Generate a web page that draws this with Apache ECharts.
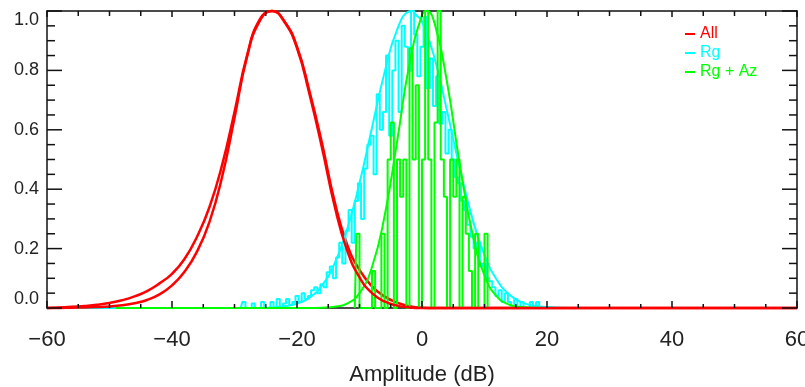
<!DOCTYPE html>
<html><head><meta charset="utf-8">
<script src="https://cdn.jsdelivr.net/npm/echarts@6/dist/echarts.min.js"></script>
<style>html,body{margin:0;padding:0;background:#fff}#c{width:805px;height:387px}</style>
</head><body><div id="c"></div>
<script>
// ---- data ----
const xTicks = [-60, -40, -20, 0, 20, 40, 60];
const yTicks = [0.0, 0.2, 0.4, 0.6, 0.8, 1.0];
const legendNames = ['All', 'Rg', 'Rg + Az'];

const allX =    [-60,-58,-56,-54,-52,-50,-48,-46,-44,-42,-40,-38,-36,-34,-32,-30,-28,-26,-24,-22,-20,-18,-16,-14,-12,-10,-8,-6,-4,-2,0,2,60];
const allHistY =[0,0.002,0.004,0.007,0.011,0.017,0.026,0.039,0.057,0.083,0.115,0.165,0.24,0.34,0.48,0.66,0.85,0.97,1.0,0.965,0.88,0.73,0.555,0.36,0.215,0.128,0.073,0.039,0.018,0.006,0.001,0,0];
const allFitY = [0,0,0.001,0.002,0.003,0.005,0.009,0.016,0.027,0.046,0.076,0.122,0.19,0.29,0.44,0.64,0.845,0.965,1.0,0.963,0.875,0.72,0.54,0.345,0.195,0.103,0.05,0.022,0.008,0.002,0,0,0];

const rgHistX = [-29,-28.5,-28,-27.5,-27,-26.5,-26,-25.5,-25,-24.5,-24,-23.5,-23,-22.5,-22,-21.5,-21,-20.5,-20,-19.5,-19,-18.5,-18,-17.5,-17,-16.5,-16,-15.5,-15,-14.5,-14,-13.5,-13,-12.5,-12,-11.5,-11,-10.5,-10,-9.5,-9,-8.5,-8,-7.5,-7,-6.5,-6,-5.5,-5,-4.5,-4,-3.5,-3,-2.5,-2,-1.5,-1,-0.5,0,0.5,1,1.5,2,2.5,3,3.5,4,4.5,5,5.5,6,6.5,7,7.5,8,8.5,9,9.5,10,10.5,11,11.5,12,12.5,13,13.5,14,14.5,15,15.5,16,16.5,17,17.5,18,18.5,19];
const rgHistY = [0,0.02,0,0,0.015,0,0,0.02,0,0,0.02,0,0.03,0,0.015,0.03,0.01,0.02,0.04,0.02,0.05,0.03,0.04,0.06,0.07,0.05,0.08,0.07,0.12,0.14,0.10,0.17,0.22,0.15,0.26,0.33,0.22,0.36,0.42,0.30,0.47,0.55,0.58,0.45,0.72,0.60,0.66,0.85,0.58,0.80,0.90,0.66,0.95,0.88,0.80,1.0,0.92,0.78,0.88,0.98,0.74,0.84,0.68,0.78,0.62,0.66,0.52,0.60,0.50,0.44,0.42,0.36,0.33,0.28,0.24,0.20,0.22,0.14,0.15,0.10,0.09,0.07,0.04,0.06,0.02,0.05,0.02,0,0.03,0,0.02,0,0,0.02,0,0.02,0];
const rgFitX = [-60,-30,-26,-24,-22,-20,-18,-16,-14,-12,-10,-8,-6,-4,-2,-1.5,-1,0,2,4,6,8,10,12,14,16,18,20,22,26,60];
const rgFitY = [0,0,0,0.002,0.006,0.015,0.035,0.076,0.149,0.263,0.42,0.607,0.792,0.936,0.999,1.0,0.988,0.964,0.842,0.664,0.474,0.306,0.178,0.094,0.045,0.019,0.0075,0.003,0.001,0,0];

const azHistX = [-10.75,-10.25,-9.75,-9.25,-8.75,-8.25,-7.75,-7.25,-6.75,-6.25,-5.75,-5.25,-4.75,-4.25,-3.75,-3.25,-2.75,-2.25,-1.75,-1.25,-0.75,-0.25,0.25,0.75,1.25,1.75,2.25,2.75,3.25,3.75,4.25,4.75,5.25,5.75,6.25,6.75,7.25,7.75,8.25,8.75,9.25,9.75,10.25,10.75];
const azHistY = [0,0.25,0,0,0,0,0.125,0,0,0.25,0,0.5,0.625,0,0.5,0.375,0.5,0,0.875,0.5,0.75,0,0.5,1.0,0.5,0,0.625,1.0,0.5,0.375,0,0.5,0.375,0.5,0,0.375,0.25,0.125,0,0.25,0,0,0.25,0];
const azFitX = [-49,-18,-16,-14,-12,-10,-8,-6,-4,-2,0,0.75,2,4,6,8,10,12,14,16,18,20,60];
const azFitY = [0,0,0.001,0.004,0.015,0.05,0.138,0.308,0.558,0.823,0.986,1.0,0.96,0.761,0.49,0.257,0.11,0.038,0.011,0.003,0.001,0,0];

const RED = '#ff0000', CYAN = '#00ffff', GREEN = '#00ff00';
const zip = (xs, ys) => xs.map((x, i) => [x, ys[i]]);

// minor tick positions: 4 sub-intervals per major interval
function minors(ticks) {
  const out = [];
  for (let i = 0; i < ticks.length - 1; i++) {
    const step = (ticks[i + 1] - ticks[i]) / 4;
    for (let k = 1; k < 4; k++) out.push(ticks[i] + k * step);
  }
  return out;
}
const tickData = [].concat(
  xTicks.map(v => [v, 0]), minors(xTicks).map(v => [v, 1]),
  yTicks.map(v => [v, 2]), minors(yTicks).map(v => [v, 3])
);

const chart = echarts.init(document.getElementById('c'), null, {renderer: 'canvas'});
const FONT = 'Liberation Sans';
const axisCol = '#111';
function xAx(pos, labels) {
  return {
    type: 'value', position: pos, min: -60, max: 60, interval: 20,
    axisLine: {show: true, onZero: false, lineStyle: {color: axisCol, width: 1.5}},
    axisTick: {show: false}, minorTick: {show: false}, splitLine: {show: false},
    axisLabel: {show: labels, fontFamily: FONT, fontSize: 22, color: '#222', margin: 21,
      hideOverlap: false, formatter: v => String(v).replace('-', '\u2212')},
    name: labels ? 'Amplitude (dB)' : '', nameLocation: 'middle', nameGap: 56,
    nameTextStyle: {fontFamily: FONT, fontSize: 22, color: '#222'}
  };
}
function yAx(pos, labels) {
  return {
    type: 'value', position: pos, min: 0, max: 1, interval: 0.2,
    axisLine: {show: true, onZero: false, lineStyle: {color: axisCol, width: 1.5}},
    axisTick: {show: false}, minorTick: {show: false}, splitLine: {show: false},
    axisLabel: {show: labels, fontFamily: FONT, fontSize: 18, color: '#222', margin: 8,
      verticalAlignMaxLabel: 'top', verticalAlignMinLabel: 'bottom',
      formatter: v => v.toFixed(1)}
  };
}
function line(name, data, color, z, width, opts) {
  return Object.assign({
    type: 'line', name, data, xAxisIndex: 0, yAxisIndex: 0, showSymbol: false, symbol: 'none',
    clip: false, z, lineStyle: {color, width}, itemStyle: {color}, animation: false
  }, opts || {});
}
function renderTick(params, api) {
  const v = api.value(0), t = api.value(1);
  const st = {stroke: axisCol, lineWidth: 1.5};
  if (t < 2) {
    const b = api.coord([v, 0]), tp = api.coord([v, 1]);
    const lb = t === 0 ? 7 : 4, lt = t === 0 ? 6 : 5;
    return {type: 'group', children: [
      {type: 'line', shape: {x1: b[0], y1: b[1], x2: b[0], y2: b[1] - lb}, style: st},
      {type: 'line', shape: {x1: tp[0], y1: tp[1], x2: tp[0], y2: tp[1] + lt}, style: st}
    ]};
  }
  const l = api.coord([-60, v]), r = api.coord([60, v]);
  const len = t === 2 ? 15 : 8;
  return {type: 'group', children: [
    {type: 'line', shape: {x1: l[0], y1: l[1], x2: l[0] + len, y2: l[1]}, style: st},
    {type: 'line', shape: {x1: r[0], y1: r[1], x2: r[0] - len, y2: r[1]}, style: st}
  ]};
}
chart.setOption({
  animation: false,
  backgroundColor: '#fff',
  grid: {left: 47, right: 8, top: 11, bottom: 79, containLabel: false, outerBoundsMode: 'none'},
  xAxis: [xAx('bottom', true), xAx('top', false)],
  yAxis: [yAx('left', true), yAx('right', false)],
  legend: {
    orient: 'vertical', left: 685, top: 26, padding: 0, itemWidth: 10, itemHeight: 2, itemGap: 3,
    icon: 'rect', selectedMode: false,
    textStyle: {fontFamily: FONT, fontSize: 16, lineHeight: 16},
    data: [
      {name: legendNames[0], textStyle: {color: RED}},
      {name: legendNames[1], textStyle: {color: CYAN}},
      {name: legendNames[2], textStyle: {color: GREEN}}
    ]
  },
  series: [
    line(legendNames[0], zip(allX, allHistY), RED, 1, 2.5, {smooth: 0.5}),
    line(legendNames[1], zip(rgHistX, rgHistY), CYAN, 2, 2, {step: 'middle'}),
    line(legendNames[1], zip(rgFitX, rgFitY), CYAN, 2, 2, {smooth: 0.5}),
    line(legendNames[2], zip(azHistX, azHistY), GREEN, 3, 2, {step: 'middle'}),
    line(legendNames[2], zip(azFitX, azFitY), GREEN, 3, 2, {smooth: 0.5}),
    line(legendNames[0], zip(allX, allFitY), RED, 4, 2.5, {smooth: 0.5}),
    {type: 'custom', name: 'ticks', data: tickData, renderItem: renderTick, clip: false,
     silent: true, z: 6, animation: false, xAxisIndex: 0, yAxisIndex: 0}
  ]
});
</script>
</body></html>
